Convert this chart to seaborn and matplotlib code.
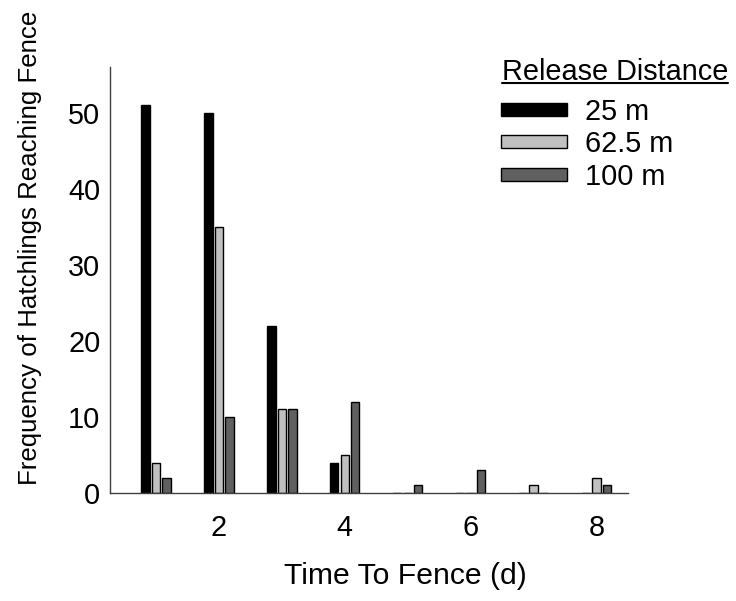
import pandas as pd
import matplotlib
matplotlib.use("Agg")
import matplotlib.pyplot as plt
import seaborn as sns
from matplotlib.lines import Line2D

# data
days = [1, 2, 3, 4, 5, 6, 7, 8]
count_25 = [51, 50, 22, 4, 0, 0, 0, 0]
count_62 = [4, 35, 11, 5, 0, 0, 1, 2]
count_100 = [2, 10, 11, 12, 1, 3, 0, 1]
distances = ["25 m", "62.5 m", "100 m"]
colors = ["#000000", "#c0c0c0", "#606060"]

df = pd.DataFrame({
    "day": days * 3,
    "count": count_25 + count_62 + count_100,
    "distance": [d for d in distances for _ in days],
})

FS = 20.8

sns.set_style("white")
plt.rcParams["font.family"] = ["Liberation Sans", "DejaVu Sans"]
plt.rcParams["font.size"] = FS
plt.rcParams["text.color"] = "black"
plt.rcParams["axes.labelcolor"] = "black"

W, H = 736, 601
fig = plt.figure(figsize=(W / 100, H / 100), dpi=100)
ax = fig.add_axes([110 / W, 1 - 493 / H, 518 / W, 426 / H])

sns.barplot(data=df, x="day", y="count", hue="distance", hue_order=distances,
            palette=colors, native_scale=True, width=0.5, gap=0.2,
            edgecolor="black", linewidth=1, ax=ax)

ax.set_xlim(0.27, 8.5)
ax.set_ylim(0, 56)
ax.set_xticks([2, 4, 6, 8])
ax.set_yticks([0, 10, 20, 30, 40, 50])
for side in ["top", "right"]:
    ax.spines[side].set_visible(False)
for side in ["left", "bottom"]:
    ax.spines[side].set_color("#404040")
    ax.spines[side].set_linewidth(1)
ax.tick_params(axis="both", direction="out", length=5, width=1, color="#404040",
               labelsize=FS, labelcolor="black")
ax.tick_params(axis="x", pad=10)
ax.tick_params(axis="y", pad=2)

ax.set_xlabel("Time To Fence (d)", fontsize=21.7)
ylab = ax.set_ylabel("Frequency of Hatchlings Reaching Fence", fontsize=FS)
ax.xaxis.set_label_coords(0.571, -0.162)
ax.yaxis.set_label_coords(-0.131, 0.576)

# the reference y label is set tighter; shrink it to the same length (~475 px)
fig.canvas.draw()
r = fig.canvas.get_renderer()
h = ylab.get_window_extent(r).height
ylab.set_fontsize(FS * 475 / h)

leg = ax.legend(loc="upper left",
                bbox_to_anchor=(501 / W, 1 - 98 / H),
                bbox_transform=fig.transFigure, frameon=False,
                fontsize=FS, handlelength=2.3,
                handleheight=0.32, handletextpad=0.6, labelspacing=0.15,
                borderpad=0, borderaxespad=0)

# legend title, underlined
title = fig.text(502 / W, 1 - 80 / H, "Release Distance", fontsize=FS,
                 ha="left", va="baseline")
fig.canvas.draw()
bb = title.get_window_extent(fig.canvas.get_renderer()).transformed(fig.transFigure.inverted())
uy = 1 - 83 / H
fig.add_artist(Line2D([bb.x0, bb.x1], [uy, uy], color="black", linewidth=1.5,
                      transform=fig.transFigure))

fig.savefig("out.png", dpi=100)
